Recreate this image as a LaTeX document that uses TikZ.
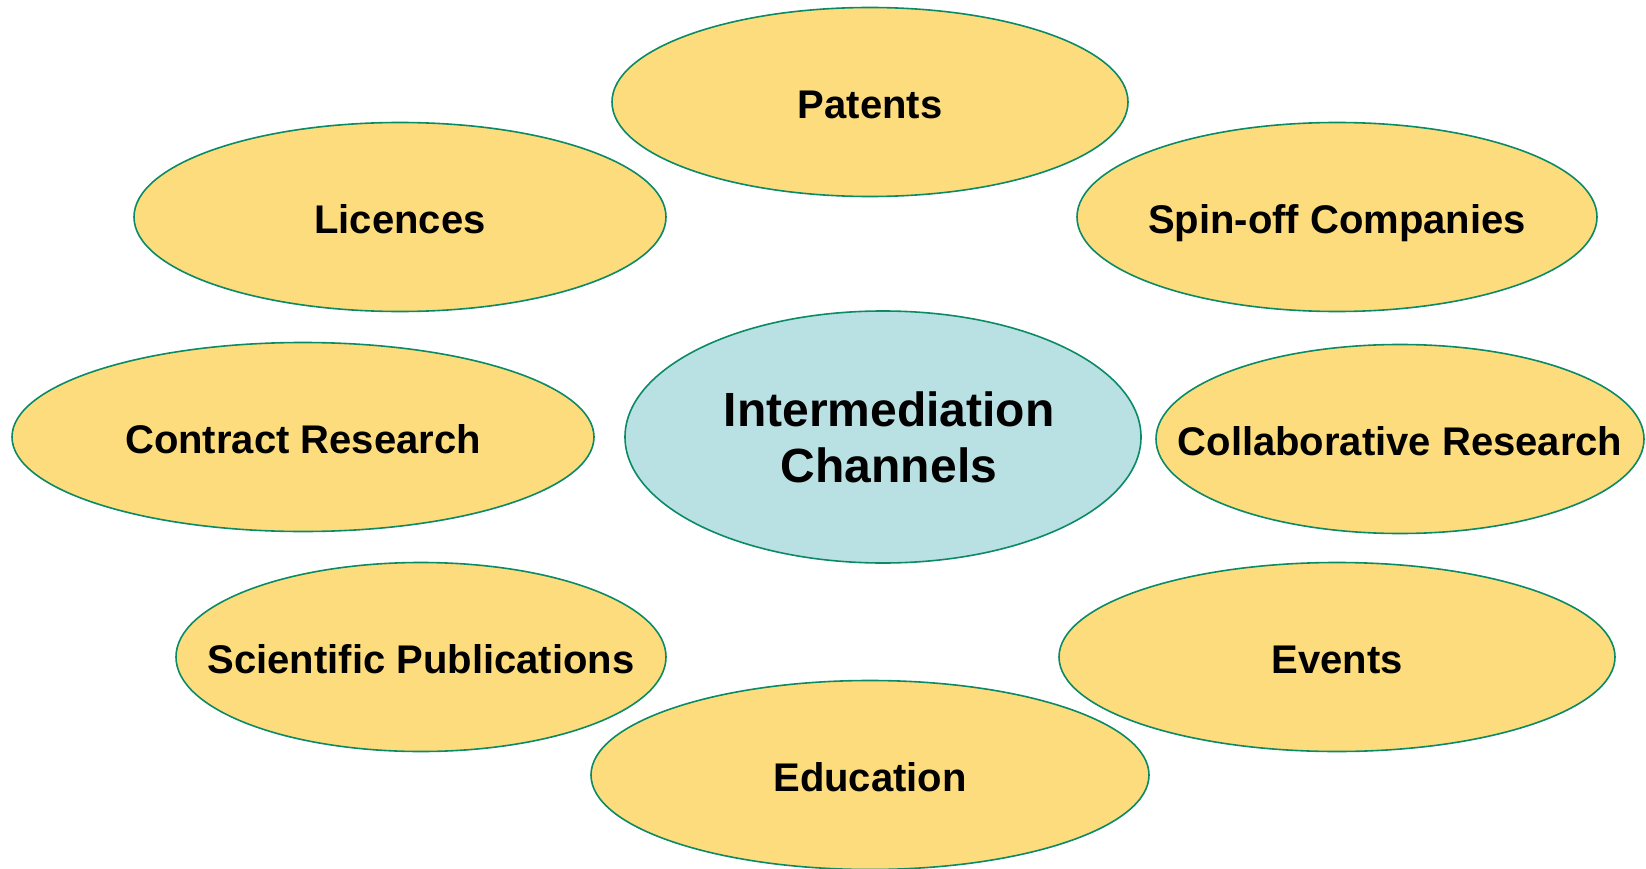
\documentclass[tikz,border=0pt]{standalone}
\usepackage{fontspec}
\setmainfont{Liberation Sans}
\usetikzlibrary{shapes.geometric}
\definecolor{chanfill}{HTML}{FDDC7E}
\definecolor{hubfill}{HTML}{B9E0E2}
\definecolor{rim}{HTML}{0B8A66}
\tikzset{
  chan/.style={ellipse, draw=rim, line width=1.6pt, fill=chanfill, inner sep=0pt,
    minimum height=189pt},
  chantext/.style={font=\fontsize{40}{47}\selectfont\bfseries, inner sep=0pt,
    text height=29pt, text depth=0pt, yshift=-2pt},
  hub/.style={ellipse, draw=rim, line width=1.6pt, fill=hubfill, inner sep=0pt,
    minimum width=516pt, minimum height=252pt},
  hubtext/.style={font=\fontsize{48}{56}\selectfont\bfseries, align=center, inner sep=0pt}
}
\begin{document}
\begin{tikzpicture}[x=1pt,y=-1pt]
\useasboundingbox (0,0) rectangle (1646,869);
\node[chan, minimum width=516pt, label={[chantext]center:Patents}] (patents) at (870,102) {};
\node[chan, minimum width=532pt, label={[chantext]center:Licences}] (licences) at (400,217) {};
\node[chan, minimum width=520pt, label={[chantext]center:Spin-off Companies}] (spinoff) at (1337,217) {};
\node[chan, minimum width=582pt, label={[chantext]center:Contract Research}] (contract) at (303,437) {};
\node[hub, label={[hubtext, xshift=6pt]center:Intermediation\\Channels}] (hub) at (883,437) {};
\node[chan, minimum width=488pt, label={[chantext]center:Collaborative Research}] (collab) at (1400,439) {};
\node[chan, minimum width=490pt, label={[chantext]center:Scientific Publications}] (sci) at (421,657) {};
\node[chan, minimum width=556pt, label={[chantext]center:Events}] (events) at (1337,657) {};
\node[chan, minimum width=558pt, label={[chantext]center:Education}] (edu) at (870,775) {};
\end{tikzpicture}
\end{document}
